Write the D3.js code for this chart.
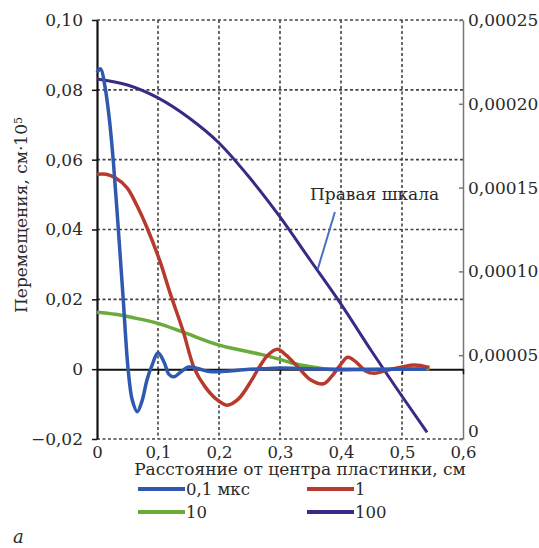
<!DOCTYPE html>
<html>
<head>
<meta charset="utf-8">
<script src="https://cdnjs.cloudflare.com/ajax/libs/d3/7.8.5/d3.min.js"></script>
<style>
  body { margin: 0; background: #fff; }
  text { font-family: "DejaVu Serif", serif; fill: #2a2a2a; }
</style>
</head>
<body>
<script>
// values: [distance, displacement]
var blue01 = [[0,0.085],[0.006,0.086],[0.013,0.081],[0.02,0.072],[0.027,0.059],[0.035,0.04],
  [0.043,0.02],[0.051,0],[0.058,-0.009],[0.066,-0.0122],[0.074,-0.009],[0.082,-0.003],[0.09,0.001],
  [0.1,0.0047],[0.11,0.002],[0.118,-0.0015],[0.126,-0.0022],[0.136,-0.001],[0.15,0.0006],
  [0.165,0.0002],[0.185,-0.0007],[0.21,-0.0006],[0.24,-0.0002],[0.27,0.0001],[0.3,0.0003],
  [0.35,0.0001],[0.4,0],[0.45,0],[0.5,0],[0.54,0]];
var red1 = [[0,0.0558],[0.015,0.0558],[0.03,0.0548],[0.049,0.052],[0.065,0.047],[0.082,0.0405],
  [0.103,0.031],[0.12,0.0217],[0.141,0.011],[0.16,0],[0.177,-0.005],[0.195,-0.0085],[0.213,-0.0103],
  [0.232,-0.0085],[0.254,-0.003],[0.264,0],[0.28,0.004],[0.296,0.0057],[0.31,0.004],[0.33,0.0005],
  [0.35,-0.003],[0.371,-0.0042],[0.385,-0.002],[0.398,0.001],[0.411,0.0034],[0.425,0.002],
  [0.44,-0.0005],[0.455,-0.0012],[0.475,-0.0003],[0.5,0.0006],[0.52,0.0012],[0.545,0.0005]];
var green10 = [[0,0.0163],[0.03,0.0157],[0.06,0.0147],[0.1,0.0131],[0.141,0.0106],[0.2,0.0069],
  [0.235,0.0055],[0.267,0.0043],[0.3,0.0028],[0.321,0.0017],[0.35,0.0007],[0.387,-0.0002],
  [0.42,-0.0002],[0.46,-0.0001],[0.5,0.0001],[0.545,0.0001]];
// this one is on the right scale
var purple100 = [[0,0.0002148],[0.05,0.0002112],[0.1,0.0002035],[0.15,0.0001918],[0.2,0.0001766],
  [0.25,0.000156],[0.3,0.0001325],[0.35,0.0001065],[0.4,0.0000805],[0.45,0.0000525],[0.5,0.0000255],
  [0.541,0.000004]];

var xTicks = [0, 0.1, 0.2, 0.3, 0.4, 0.5, 0.6];
var leftTicks = [-0.02, 0, 0.02, 0.04, 0.06, 0.08, 0.10];
var rightTicks = [0, 0.00005, 0.0001, 0.00015, 0.0002, 0.00025];

var w = 539;
var h = 548;
var svg = d3.select("body").append("svg").attr("width", w).attr("height", h);

var x = d3.scaleLinear().domain([0, 0.6]).range([97, 463]);
var yL = d3.scaleLinear().domain([-0.02, 0.10]).range([439, 20]);
var yR = d3.scaleLinear().domain([0, 0.00025]).range([439, 20]);

function comma(d, digits) {
  if (d === 0) return "0";
  var s = Math.abs(d).toFixed(digits).replace(".", ",");
  return (d < 0 ? "\u22120" + s.slice(1) : s);
}

// dashed grid
var grid = svg.append("g").attr("stroke", "#444").attr("stroke-width", 1.6)
  .attr("stroke-dasharray", "3,2.5");
leftTicks.filter(function(d) { return d !== 0; }).forEach(function(d) {
  grid.append("line").attr("x1", x(0)).attr("x2", x(0.6)).attr("y1", yL(d)).attr("y2", yL(d));
});
[0.1, 0.2, 0.3, 0.4, 0.5].forEach(function(d) {
  grid.append("line").attr("x1", x(d)).attr("x2", x(d)).attr("y1", yL(0.10)).attr("y2", yL(-0.02));
});

// right axis
var rAxis = svg.append("g").attr("transform", "translate(" + x(0.6) + ",0)")
  .call(d3.axisRight(yR).tickValues(rightTicks).tickSizeInner(-4).tickSizeOuter(0).tickPadding(5)
    .tickFormat(function(d) { return comma(d, 5); }));
rAxis.select(".domain").attr("stroke", "#777").attr("stroke-width", 1.5);
rAxis.selectAll(".tick line").attr("stroke", "#777").attr("stroke-width", 1.5);
rAxis.selectAll("text").style("font-size", "17px").attr("fill", "#2a2a2a");
rAxis.selectAll(".tick").filter(function(d) { return d === 0; }).select("text").attr("dy", "-0.12em");

// zero line with small ticks
var zAxis = svg.append("g").attr("transform", "translate(0," + yL(0) + ")")
  .call(d3.axisBottom(x).tickValues(xTicks.slice(1)).tickSizeInner(5).tickSizeOuter(0).tickFormat(""));
zAxis.select(".domain").attr("stroke", "#111").attr("stroke-width", 2);
zAxis.selectAll(".tick line").attr("stroke", "#111").attr("stroke-width", 1.5);

// x labels at the bottom
var xAxis = svg.append("g").attr("transform", "translate(0," + yL(-0.02) + ")")
  .call(d3.axisBottom(x).tickValues(xTicks).tickSize(0).tickPadding(7)
    .tickFormat(function(d) { return comma(d, 1); }));
xAxis.select(".domain").remove();
xAxis.selectAll("text").style("font-size", "16.5px").attr("fill", "#2a2a2a");

// left axis
var lAxis = svg.append("g").attr("transform", "translate(" + x(0) + ",0)")
  .call(d3.axisLeft(yL).tickValues(leftTicks).tickSizeInner(5).tickSizeOuter(0).tickPadding(9)
    .tickFormat(function(d) { return comma(d, 2); }));
lAxis.select(".domain").attr("stroke", "#111").attr("stroke-width", 2.2);
lAxis.selectAll(".tick line").attr("stroke", "#111").attr("stroke-width", 1.5);
lAxis.selectAll("text").style("font-size", "17px").attr("fill", "#2a2a2a");

// curves
var lineL = d3.line().x(function(d) { return x(d[0]); }).y(function(d) { return yL(d[1]); })
  .curve(d3.curveCatmullRom.alpha(0.5));
var lineR = d3.line().x(function(d) { return x(d[0]); }).y(function(d) { return yR(d[1]); })
  .curve(d3.curveMonotoneX);

var series = [
  { name: "100", data: purple100, line: lineR, color: "#3b2a85", width: 3 },
  { name: "10", data: green10, line: lineL, color: "#6aab3c", width: 3.5 },
  { name: "1", data: red1, line: lineL, color: "#b83a2c", width: 3.5 },
  { name: "0,1 мкс", data: blue01, line: lineL, color: "#2f58b0", width: 3.5 }
];
series.forEach(function(s) {
  svg.append("path").datum(s.data).attr("d", s.line).attr("fill", "none")
    .attr("stroke", s.color).attr("stroke-width", s.width).attr("stroke-linejoin", "round");
});

// annotation for the right scale
svg.append("line")
  .attr("x1", x(0.39)).attr("y1", yR(0.0001354))
  .attr("x2", x(0.362)).attr("y2", yR(0.0001015))
  .attr("stroke", "#4a6fc0").attr("stroke-width", 2);
svg.append("text").attr("x", 310).attr("y", 200).style("font-size", "17px").text("Правая шкала");

// axis titles
svg.append("text").attr("x", 300).attr("y", 475).attr("text-anchor", "middle")
  .style("font-size", "17px").text("Расстояние от центра пластинки, см");
var yt = svg.append("text").attr("transform", "translate(27,215) rotate(-90)")
  .attr("text-anchor", "middle").style("font-size", "17px");
yt.append("tspan").text("Перемещения, см·10");
yt.append("tspan").attr("dy", "-0.45em").style("font-size", "11px").text("5");

// legend
var legendItems = [
  { label: "0,1 мкс", color: "#2f58b0", lx: 138, ly: 489 },
  { label: "1", color: "#b83a2c", lx: 307, ly: 489 },
  { label: "10", color: "#6aab3c", lx: 138, ly: 512 },
  { label: "100", color: "#3b2a85", lx: 307, ly: 512 }
];
legendItems.forEach(function(d) {
  svg.append("line").attr("x1", d.lx).attr("x2", d.lx + 47).attr("y1", d.ly).attr("y2", d.ly)
    .attr("stroke", d.color).attr("stroke-width", 4);
  svg.append("text").attr("x", d.lx + 48).attr("y", d.ly + 5.5).style("font-size", "16.5px").text(d.label);
});

svg.append("text").attr("x", 13).attr("y", 543).style("font-size", "18px")
  .style("font-style", "italic").text("a");
</script>
</body>
</html>
